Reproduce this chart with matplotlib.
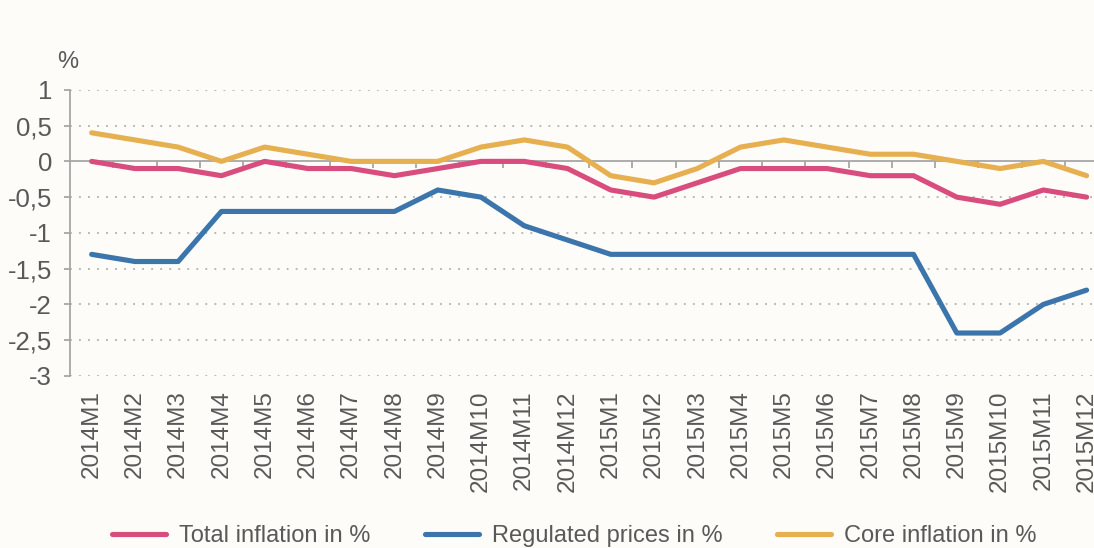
import numpy as np
import matplotlib.pyplot as plt

plt.rcParams['font.family'] = ['Liberation Sans', 'DejaVu Sans']

# data
months = ['2014M1', '2014M2', '2014M3', '2014M4', '2014M5', '2014M6', '2014M7', '2014M8',
          '2014M9', '2014M10', '2014M11', '2014M12', '2015M1', '2015M2', '2015M3', '2015M4',
          '2015M5', '2015M6', '2015M7', '2015M8', '2015M9', '2015M10', '2015M11', '2015M12']
total_infl = [0.0, -0.1, -0.1, -0.2, 0.0, -0.1, -0.1, -0.2, -0.1, 0.0, 0.0, -0.1,
              -0.4, -0.5, -0.3, -0.1, -0.1, -0.1, -0.2, -0.2, -0.5, -0.6, -0.4, -0.5]
regulated = [-1.3, -1.4, -1.4, -0.7, -0.7, -0.7, -0.7, -0.7, -0.4, -0.5, -0.9, -1.1,
             -1.3, -1.3, -1.3, -1.3, -1.3, -1.3, -1.3, -1.3, -2.4, -2.4, -2.0, -1.8]
core_infl = [0.4, 0.3, 0.2, 0.0, 0.2, 0.1, 0.0, 0.0, 0.0, 0.2, 0.3, 0.2,
             -0.2, -0.3, -0.1, 0.2, 0.3, 0.2, 0.1, 0.1, 0.0, -0.1, 0.0, -0.2]
yticks = [1, 0.5, 0, -0.5, -1, -1.5, -2, -2.5, -3]
ytick_labels = ['1', '0,5', '0', '-0,5', '-1', '-1,5', '-2', '-2,5', '-3']

bg = '#fdfcf9'
txt = '#595959'
grey = '#a6a6a6'

fig = plt.figure(figsize=(10.94, 5.48), dpi=100, facecolor=bg)
ax = fig.add_axes([0.064, 0.314, 0.949, 0.522], facecolor=bg)

x = np.arange(len(months))

# dotted grid, solid zero line
for v in yticks:
    if v != 0:
        ax.axhline(v, color='#b0b0b0', lw=1.3, ls=(0, (1, 4)), zorder=1)

ax.plot(x, total_infl, color='#d94c7e', lw=3.7, solid_capstyle='round', label='Total inflation in %', zorder=3)
ax.plot(x, regulated, color='#3b75ab', lw=3.7, solid_capstyle='round', label='Regulated prices in %', zorder=3)
ax.plot(x, core_infl, color='#e6af4f', lw=3.7, solid_capstyle='round', label='Core inflation in %', zorder=3)

ax.set_xlim(-0.5, len(months) - 0.5)
ax.set_ylim(-3, 1)

for s in ['top', 'right']:
    ax.spines[s].set_visible(False)
ax.spines['left'].set_color(grey)
ax.spines['left'].set_linewidth(1.3)
ax.spines['bottom'].set_position(('data', 0))
ax.spines['bottom'].set_color(grey)
ax.spines['bottom'].set_linewidth(1.3)
ax.spines['bottom'].set_zorder(2)

ax.set_yticks(yticks)
ax.set_yticklabels(ytick_labels)
ax.tick_params(axis='y', colors=grey, labelcolor=txt, labelsize=18.5, length=4, width=1.3, pad=9)

# month labels hang below the chart, ticks sit between months on the zero line
ax.set_xticks(x)
ax.set_xticklabels(months, rotation=90)
ax.tick_params(axis='x', which='major', length=0, labelcolor=txt, labelsize=17.5, pad=165)
ax.set_xticks(np.arange(0.5, len(months) - 0.5, 1), minor=True)
ax.tick_params(axis='x', which='minor', length=5, width=1.3, color=grey, direction='out')

fig.text(0.062, 0.887, '%', color=txt, fontsize=17, ha='center', va='center')

fig.legend(loc='center', bbox_to_anchor=(0.525, 0.022), ncol=3, frameon=False, fontsize=17,
           labelcolor=txt, handlelength=2.3, handletextpad=0.55, columnspacing=2.3)

fig.savefig('out.png', dpi=100, facecolor=bg)
